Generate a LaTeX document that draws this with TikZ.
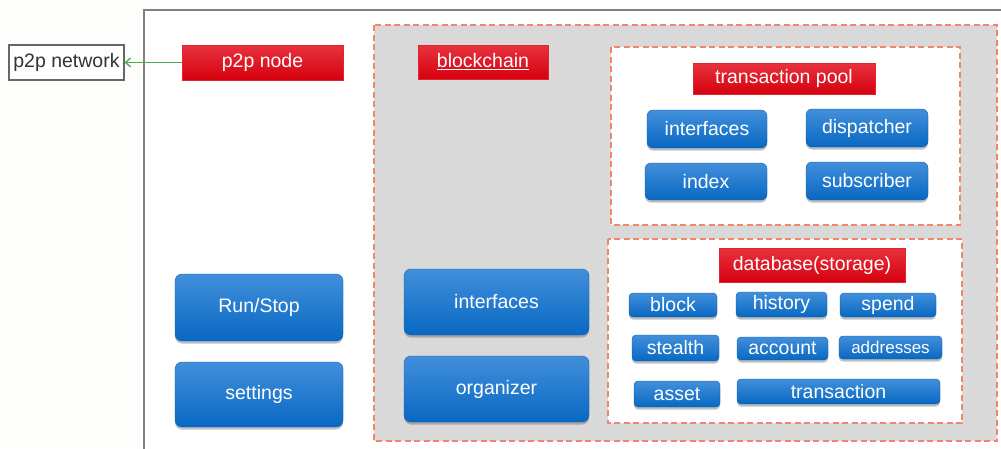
\documentclass[tikz,border=0pt]{standalone}
\usepackage{fontspec}
\setmainfont{Liberation Sans}
\usetikzlibrary{shadows,arrows.meta}
\definecolor{pagebg}{RGB}{253,253,251}
\definecolor{frame}{RGB}{128,128,128}
\definecolor{dashc}{RGB}{240,135,105}
\definecolor{regiongray}{RGB}{217,217,217}
\definecolor{bluetop}{RGB}{66,143,219}
\definecolor{bluebot}{RGB}{8,104,194}
\definecolor{redtop}{RGB}{232,50,62}
\definecolor{redbot}{RGB}{214,0,14}
\definecolor{arrowgreen}{RGB}{80,170,80}
\tikzset{
  lbl/.style={font=\fontsize{19.5}{23}\selectfont},
  bluebtn/.style={lbl, text=white, rounded corners=7pt, top color=bluetop, bottom color=bluebot,
    draw=bluebot!90!black, line width=0.4pt, inner sep=0pt,
    drop shadow={shadow xshift=0pt, shadow yshift=-2.5pt, opacity=0.35, fill=black!70}},
  smallbtn/.style={bluebtn, rounded corners=4pt},
  redtag/.style={lbl, text=white, top color=redtop, bottom color=redbot,
    draw=redbot!85!white, line width=0.4pt, inner sep=0pt},
  dashbox/.style={draw=dashc, line width=1.7pt, dash pattern=on 6pt off 3.5pt},
}
\begin{document}
\begin{tikzpicture}[x=1pt, y=-1pt]
  % page
  \fill[pagebg] (0,0) rectangle (1001,448);
  \useasboundingbox (0,0) rectangle (1001,448);
  \begin{scope}
    \clip (0,0) rectangle (1001,448);
    % outer frame of the node
    \draw[frame, line width=1.6pt, fill=white] (144,10) rectangle (1020,470);
    % blockchain region
    \draw[dashbox, fill=regiongray] (374,25) rectangle (997,441);
    % transaction pool and database regions
    \draw[dashbox, fill=white] (611,47) rectangle (960,225);
    \draw[dashbox, fill=white] (608,239) rectangle (962,423);
  \end{scope}

  % p2p network and node
  \node[lbl, draw=black!60, line width=1.2pt, fill=white, text=black!80,
        minimum width=115pt, minimum height=35pt, inner sep=0pt] (p2pnet) at (66.5,62.5) {p2p network};
  \node[redtag, minimum width=161pt, minimum height=35pt] (p2pnode) at (262.5,62.5) {p2p node};
  \draw[arrowgreen, line width=1.3pt, -{Straight Barb[length=5pt,width=9pt]}] (p2pnode.west) -- (p2pnet.east);

  \node[bluebtn, minimum width=168pt, minimum height=67pt] (runstop) at (259,307.5) {Run/Stop};
  \node[bluebtn, minimum width=168pt, minimum height=65pt] (settings) at (259,394.5) {settings};

  % blockchain
  \node[redtag, minimum width=130pt, minimum height=34pt] (bclabel) at (483,62) {\underline{blockchain}};
  \node[bluebtn, minimum width=185pt, minimum height=66pt] (bcif) at (496.5,302) {interfaces};
  \node[bluebtn, minimum width=185pt, minimum height=66pt] (organizer) at (496.5,389) {organizer};

  % transaction pool
  \node[redtag, minimum width=182pt, minimum height=31pt] (poollabel) at (784,78.5) {transaction pool};
  \node[bluebtn, rounded corners=6pt, minimum width=120pt, minimum height=38pt] (poolif) at (707,129) {interfaces};
  \node[bluebtn, rounded corners=6pt, minimum width=122pt, minimum height=38pt] (dispatcher) at (867,128) {dispatcher};
  \node[bluebtn, rounded corners=6pt, minimum width=122pt, minimum height=37pt] (index) at (706,181.5) {index};
  \node[bluebtn, rounded corners=6pt, minimum width=122pt, minimum height=38pt] (subscriber) at (867,181) {subscriber};

  % database
  \node[redtag, minimum width=186pt, minimum height=34pt] (dblabel) at (812,265) {database(storage)};
  \node[smallbtn, minimum width=88pt, minimum height=24pt] (block) at (673,305) {block};
  \node[smallbtn, minimum width=91pt, minimum height=25pt] (history) at (781.5,304.5) {history};
  \node[smallbtn, minimum width=96pt, minimum height=24pt] (spend) at (888,305) {spend};
  \node[smallbtn, minimum width=87pt, minimum height=26pt] (stealth) at (675.5,348) {stealth};
  \node[smallbtn, minimum width=91pt, minimum height=23pt] (account) at (782.5,348.5) {account};
  \node[smallbtn, minimum width=103pt, minimum height=23pt, font=\fontsize{17}{20}\selectfont] (addresses) at (890.5,347.5) {addresses};
  \node[smallbtn, minimum width=86pt, minimum height=26pt] (asset) at (677,394) {asset};
  \node[smallbtn, minimum width=203pt, minimum height=25pt] (transaction) at (838.5,391.5) {transaction};
\end{tikzpicture}
\end{document}
